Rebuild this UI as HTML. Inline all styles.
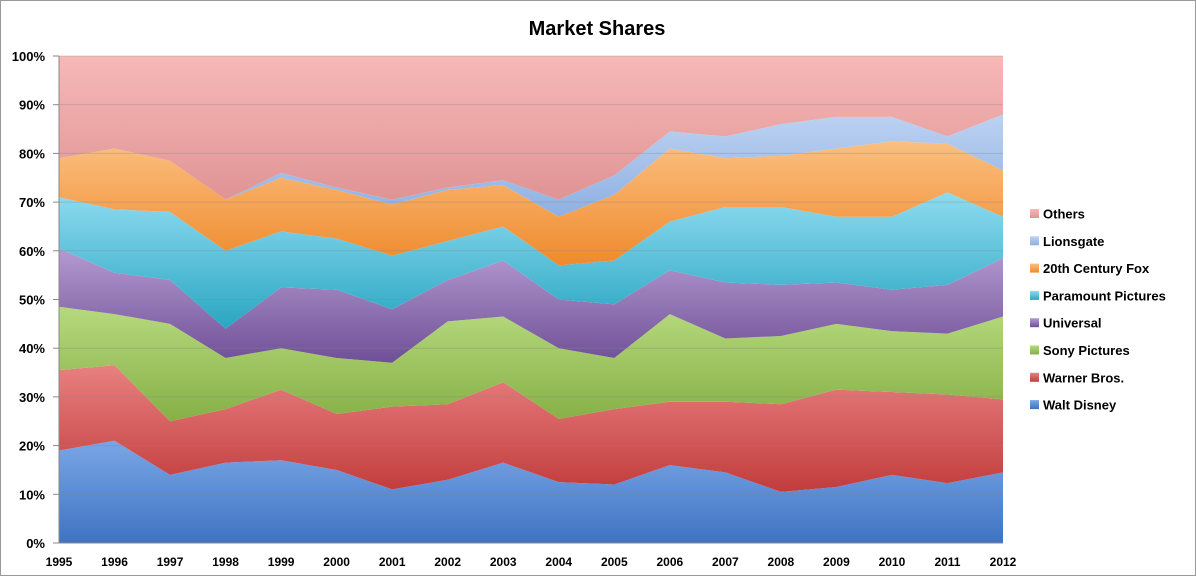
<!DOCTYPE html>
<html><head><meta charset="utf-8"><style>
html,body{margin:0;padding:0;background:#fff;width:1196px;height:576px;overflow:hidden}
svg text{font-family:"Liberation Sans",sans-serif}
</style></head><body>
<svg id="s" width="1196" height="576" xmlns="http://www.w3.org/2000/svg">
<defs>
<linearGradient id="g0" x1="0" y1="0" x2="0" y2="1"><stop offset="0" stop-color="#7aa6e6"/><stop offset="1" stop-color="#3f74c2"/></linearGradient>
<linearGradient id="g1" x1="0" y1="0" x2="0" y2="1"><stop offset="0" stop-color="#e88080"/><stop offset="1" stop-color="#c23c3c"/></linearGradient>
<linearGradient id="g2" x1="0" y1="0" x2="0" y2="1"><stop offset="0" stop-color="#b6d97e"/><stop offset="1" stop-color="#86b046"/></linearGradient>
<linearGradient id="g3" x1="0" y1="0" x2="0" y2="1"><stop offset="0" stop-color="#b49ad2"/><stop offset="1" stop-color="#6f4f96"/></linearGradient>
<linearGradient id="g4" x1="0" y1="0" x2="0" y2="1"><stop offset="0" stop-color="#8edbf0"/><stop offset="1" stop-color="#2aa6c2"/></linearGradient>
<linearGradient id="g5" x1="0" y1="0" x2="0" y2="1"><stop offset="0" stop-color="#fbbf80"/><stop offset="1" stop-color="#ef8a2c"/></linearGradient>
<linearGradient id="g6" x1="0" y1="0" x2="0" y2="1"><stop offset="0" stop-color="#bcd2f2"/><stop offset="1" stop-color="#8eb0e2"/></linearGradient>
<linearGradient id="g7" x1="0" y1="0" x2="0" y2="1"><stop offset="0" stop-color="#f7b8b8"/><stop offset="1" stop-color="#e09494"/></linearGradient>
</defs>
<rect x="0.5" y="0.5" width="1195" height="575" fill="#fff" stroke="#999"/>
<g id="plot"></g>
<text x="597" y="35" font-size="20" font-weight="bold" text-anchor="middle">Market Shares</text>
</svg>
<script>
var s=document.getElementById('plot');
var x0=59,x1=1003,y0=543,yt=56;
function X(i){return x0+i*(x1-x0)/17}
function Y(v){return y0-v*(y0-yt)/100}
var tops=[
[19,21,14,16.5,17,15,11,13,16.5,12.5,12,16,14.5,10.5,11.5,14,12.3,14.5],
[35.5,36.5,25,27.5,31.5,26.5,28,28.5,33,25.5,27.5,29,29,28.5,31.5,31,30.5,29.5],
[48.5,47,45,38,40,38,37,45.5,46.5,40,38,47,42,42.5,45,43.5,43,46.5],
[60.5,55.5,54,44,52.5,52,48,54,58,50,49,56,53.5,53,53.5,52,53,58.5],
[71,68.5,68,60,64,62.5,59,62,65,57,58,66,69,69,67,67,72,67],
[79,81,78.5,70.5,75,72.5,69.5,72.5,73.5,67,71.5,81,79,79.5,81,82.5,82,76.5],
[79,81,78.5,70.5,76,73,70.5,73,74.5,70.5,75.5,84.5,83.5,86,87.5,87.5,83.5,88],
[100,100,100,100,100,100,100,100,100,100,100,100,100,100,100,100,100,100]];
var h='';
var prev=tops[0].map(function(){return 0});
for(var k=0;k<8;k++){var d='M';for(var i=0;i<18;i++)d+=X(i)+','+Y(tops[k][i])+' L';
for(var i=17;i>=0;i--)d+=X(i)+','+Y(prev[i])+(i?' L':' Z');
h+='<path d="'+d+'" fill="url(#g'+k+')"/>';prev=tops[k];}
for(var v=10;v<=100;v+=10)h+='<line x1="'+x0+'" x2="'+x1+'" y1="'+Y(v)+'" y2="'+Y(v)+'" stroke="#888" stroke-opacity="0.35" stroke-width="1"/>';
h+='<line x1="'+x0+'" x2="'+x0+'" y1="'+yt+'" y2="'+y0+'" stroke="#888"/>';
h+='<line x1="'+x0+'" x2="'+x1+'" y1="'+y0+'" y2="'+y0+'" stroke="#888"/>';
for(var v=0;v<=100;v+=10)h+='<text x="45" y="'+(Y(v)+5)+'" font-size="13" font-weight="bold" text-anchor="end">'+v+'%</text><line x1="53" x2="59" y1="'+Y(v)+'" y2="'+Y(v)+'" stroke="#888"/>';
for(var i=0;i<18;i++)h+='<text x="'+X(i)+'" y="566" font-size="12" font-weight="bold" text-anchor="middle">'+(1995+i)+'</text>';
var names=["Others","Lionsgate","20th Century Fox","Paramount Pictures","Universal","Sony Pictures","Warner Bros.","Walt Disney"];
for(var j=0;j<8;j++){var y=214+j*27.3;h+='<rect x="1030" y="'+(y-5)+'" width="9" height="9" fill="url(#g'+(7-j)+')"/><text x="1043" y="'+(y+4.5)+'" font-size="13" font-weight="bold">'+names[j]+'</text>';}
s.innerHTML=h;
</script>
</body></html>
